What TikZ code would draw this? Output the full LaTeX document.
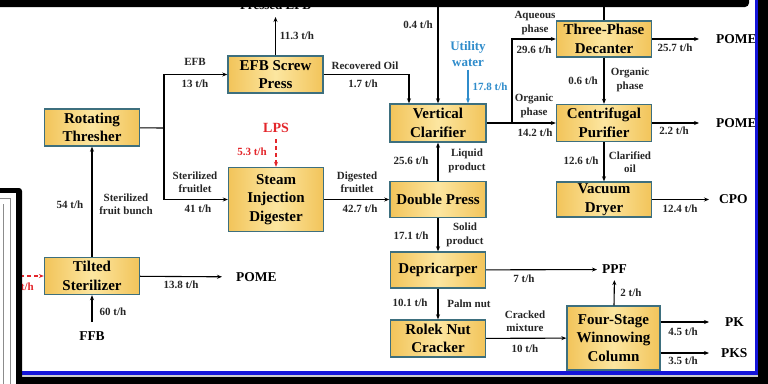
\documentclass[tikz,border=0pt]{standalone}
\usepackage{fontspec}
\setmainfont{Liberation Serif}
\usepackage{tikz}
\usetikzlibrary{arrows.meta}

\definecolor{boxedge}{HTML}{F2C45A}
\definecolor{boxmid}{HTML}{FCE6A0}
\definecolor{boxline}{HTML}{3D6F7E}
\definecolor{steamred}{HTML}{E3262B}
\definecolor{waterblue}{HTML}{2F8CCB}
\definecolor{frameblue}{HTML}{1414D8}

\begin{document}
\begin{tikzpicture}[x=1pt, y=-1pt,
      unit/.style={
        rectangle,
        draw=boxline, line width=1.4pt,
        left color=boxedge, right color=boxedge, middle color=boxmid,
        minimum width=95pt,
        minimum height=37pt,
        inner sep=1pt,
        align=center,
        font=\bfseries\fontsize{15}{18.5}\selectfont
      },
      flow/.style={
        align=center, inner sep=0pt, text=black!85,
        font=\bfseries\fontsize{11}{13.5}\selectfont
      },
      stream/.style={
        anchor=west, inner ysep=1pt,
        font=\bfseries\fontsize{13.5}{15}\selectfont
      },
      arrow/.style={
        -{Stealth[length=5pt,width=4pt]},
        line width=1.1pt
      }
    ]
      \useasboundingbox (0,0) rectangle (768,383);

      % process units
      \node[unit] (thresher) at (92,127.5) {Rotating\\Thresher};
      \node[unit] (sterilizer) at (92,276) {Tilted\\Sterilizer};
      \node[unit] (efbpress) at (275.5,74.5) {EFB Screw\\Press};
      \node[unit, minimum height=64pt] (digester) at (276,199.5) {Steam\\Injection\\Digester};
      \node[unit, minimum width=96pt, minimum height=38pt] (clarifier) at (438,123) {Vertical\\Clarifier};
      \node[unit, minimum width=96pt, minimum height=36pt] (dpress) at (438,199.5) {Double Press};
      \node[unit, minimum height=36pt] (depricarper) at (438,270) {Depricarper};
      \node[unit] (cracker) at (438,338.5) {Rolek Nut\\Cracker};
      \node[unit, minimum height=36pt] (decanter) at (604,39) {Three-Phase\\Decanter};
      \node[unit] (purifier) at (604,123) {Centrifugal\\Purifier};
      \node[unit, minimum height=35pt] (dryer) at (604,199.5) {Vacuum\\Dryer};
      \node[unit, minimum width=93pt, minimum height=64pt] (winnow) at (613.5,338) {Four-Stage\\Winnowing\\Column};

      % feeds and products
      \node[stream, anchor=north, inner ysep=9pt] (ffb) at (92,322) {FFB};
      \node[stream, anchor=south, inner ysep=7pt, font=\bfseries\fontsize{13}{15}\selectfont] (pefb) at (275.5,17) {Pressed EFB};
      \node[stream, inner xsep=14pt] (pome1) at (222,277) {POME};
      \node[stream, inner xsep=17pt] (pome2) at (699,39) {POME};
      \node[stream, inner xsep=17pt] (pome3) at (699,123) {POME};
      \node[stream, inner xsep=10pt] (cpo) at (709,199.5) {CPO};
      \node[stream, inner xsep=5pt, inner ysep=6pt] (ppf) at (597,269.5) {PPF};
      \node[stream, inner xsep=16pt] (pk) at (709,322) {PK};
      \node[stream, inner xsep=12pt] (pks) at (709,353) {PKS};
      \node[flow, text=steamred, inner ysep=6pt, font=\bfseries\fontsize{14}{16}\selectfont] (lps) at (276,128) {LPS};
      \node[flow, text=waterblue, inner sep=3pt, font=\bfseries\fontsize{13}{15.5}\selectfont] (water) at (468,54) {Utility\\water};
      \coordinate (split) at (164,128);
      \coordinate (branch) at (512,123);
      \coordinate (oilin) at (438,6);
      \coordinate (decout) at (604,6);
      \coordinate (steamin) at (6,276);

      % connectors
      \draw[arrow] (ffb) -- (sterilizer);
      \draw[arrow] (sterilizer) -- (thresher);
      \draw[arrow] (sterilizer) -- (pome1);
      \draw[arrow, steamred, dash pattern=on 4pt off 3pt] (steamin) -- (sterilizer);
      \draw[line width=1.1pt] (thresher) -- (split);
      \draw[arrow] (split) |- (efbpress);
      \draw[arrow] (split) |- (digester);
      \draw[arrow] (efbpress) -- (pefb);
      \draw[arrow, steamred, dash pattern=on 4pt off 3pt] (lps) -- (digester);
      \draw[arrow] (efbpress.east) -| ([xshift=-29pt]clarifier.north);
      \draw[arrow] (oilin) -- (clarifier);
      \draw[arrow, waterblue] (water.south) -- (water.south |- clarifier.north);
      \draw[arrow] (digester) -- (dpress);
      \draw[arrow] (dpress) -- (clarifier);
      \draw[arrow] (dpress) -- (depricarper);
      \draw[arrow] (depricarper) -- (cracker);
      \draw[arrow] (depricarper) -- (ppf);
      \draw[arrow] (cracker) -- (winnow);
      \draw[arrow] (winnow) -- (ppf);
      \draw[arrow] (pk.west -| winnow.east) -- (pk);
      \draw[arrow] (pks.west -| winnow.east) -- (pks);
      \draw[arrow] (clarifier) -- (purifier);
      \draw[arrow] (branch) |- (decanter);
      \draw[line width=1.1pt] (decanter) -- (decout);
      \draw[arrow] (decanter) -- (purifier);
      \draw[arrow] (purifier) -- (dryer);
      \draw[arrow] (decanter) -- (pome2);
      \draw[arrow] (purifier) -- (pome3);
      \draw[arrow] (dryer) -- (cpo);

      % stream labels
      \node[flow] (l01) at (195,62) {EFB};
      \node[flow] (l02) at (195,84) {13 t/h};
      \node[flow] (l03) at (195,182) {Sterilized\\fruitlet};
      \node[flow] (l04) at (198,209) {41 t/h};
      \node[flow] (l05) at (297,36) {11.3 t/h};
      \node[flow, text=steamred] (l06) at (252,152) {5.3 t/h};
      \node[flow] (l07) at (365,66) {Recovered Oil};
      \node[flow] (l08) at (363,84) {1.7 t/h};
      \node[flow] (l09) at (357,182) {Digested\\fruitlet};
      \node[flow] (l10) at (360,209) {42.7 t/h};
      \node[flow] (l11) at (70,205) {54 t/h};
      \node[flow] (l12) at (126,204) {Sterilized\\fruit bunch};
      \node[flow] (l13) at (181,285) {13.8 t/h};
      \node[flow] (l14) at (113,312) {60 t/h};
      \node[flow, text=steamred, anchor=east] (l15) at (34,287) {t/h};
      \node[flow] (l16) at (418,25) {0.4 t/h};
      \node[flow, text=waterblue] (l17) at (490,87) {17.8 t/h};
      \node[flow] (l18) at (411,161) {25.6 t/h};
      \node[flow] (l19) at (467,161) {Liquid\\product};
      \node[flow] (l20) at (411,236) {17.1 t/h};
      \node[flow] (l21) at (465,235) {Solid\\product};
      \node[flow] (l22) at (410,303) {10.1 t/h};
      \node[flow] (l23) at (469,304) {Palm nut};
      \node[flow] (l24) at (524,279) {7 t/h};
      \node[flow] (l25) at (525,321) {Cracked\\mixture};
      \node[flow] (l26) at (525,349) {10 t/h};
      \node[flow] (l27) at (631,293) {2 t/h};
      \node[flow] (l28) at (683,332) {4.5 t/h};
      \node[flow] (l29) at (683,361) {3.5 t/h};
      \node[flow] (l30) at (535,23) {Aqueous\\phase};
      \node[flow] (l31) at (534,50) {29.6 t/h};
      \node[flow] (l32) at (534,106) {Organic\\phase};
      \node[flow] (l33) at (535,133) {14.2 t/h};
      \node[flow] (l34) at (583,81) {0.6 t/h};
      \node[flow] (l35) at (630,80) {Organic\\phase};
      \node[flow] (l36) at (675,48) {25.7 t/h};
      \node[flow] (l37) at (674,131) {2.2 t/h};
      \node[flow] (l38) at (581,161) {12.6 t/h};
      \node[flow] (l39) at (630,162) {Clarified\\oil};
      \node[flow] (l40) at (680,209) {12.4 t/h};

      % window edges over the figure
      \fill[black, rounded corners=4pt] (-8,-8) rectangle (749,7);
      \fill[frameblue] (755,-8) rectangle (758,373);
      \fill[black] (758,-8) rectangle (776,391);
      \fill[frameblue] (22,371) rectangle (758,374.5);
      \fill[black!20] (22,374.5) rectangle (758,377);
      \fill[black] (16,377) rectangle (776,391);
      \fill[black, rounded corners=3pt] (-8,188) rectangle (22,391);
      \fill[white] (-8,193) rectangle (16,391);
      \draw[black!45, line width=0.6pt] (-8,198) -- (10,198) -- (10,391);
      \draw[black!45, line width=0.6pt] (3,204) -- (3,391);
    \end{tikzpicture}
\end{document}
